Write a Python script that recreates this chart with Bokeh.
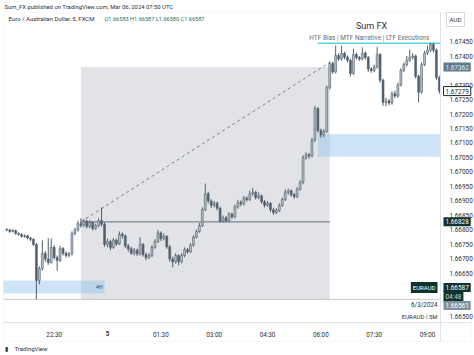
from bokeh.plotting import figure
from bokeh.models import (ColumnDataSource, Range1d, FixedTicker, PrintfTickFormatter,
                          Label, BoxAnnotation)
from bokeh.embed import file_html
from bokeh.resources import INLINE

# ---------------- data (EURAUD 5m, FXCM) ----------------
# bar times in minutes relative to 00:00 on the 5th; first bar 21:10 on the 4th
FIRST_BAR = -170
BAR_MINUTES = 5

opens = [
    1.66802, 1.66800, 1.66795, 1.66798, 1.66788, 1.66785, 1.66778, 1.66780, 1.66772, 1.66768,
    1.66750, 1.66626, 1.66667, 1.66719, 1.66700, 1.66688, 1.66740, 1.66705, 1.66695, 1.66736,
    1.66720, 1.66712, 1.66718, 1.66788, 1.66800, 1.66822, 1.66816, 1.66830, 1.66812, 1.66826,
    1.66805, 1.66815, 1.66832, 1.66820, 1.66750, 1.66760, 1.66740, 1.66765, 1.66752, 1.66785,
    1.66780, 1.66745, 1.66735, 1.66720, 1.66730, 1.66718, 1.66750, 1.66715, 1.66705, 1.66712,
    1.66740, 1.66760, 1.66790, 1.66770, 1.66778, 1.66742, 1.66700, 1.66690, 1.66712, 1.66690,
    1.66712, 1.66732, 1.66725, 1.66748, 1.66775, 1.66795, 1.66815, 1.66870, 1.66925, 1.66900,
    1.66885, 1.66892, 1.66875, 1.66830, 1.66842, 1.66832, 1.66855, 1.66845, 1.66880, 1.66895,
    1.66890, 1.66910, 1.66905, 1.66925, 1.66930, 1.66912, 1.66918, 1.66898, 1.66885, 1.66892,
    1.66870, 1.66860, 1.66868, 1.66885, 1.66905, 1.66930, 1.66935, 1.66922, 1.66915, 1.66940,
    1.66964, 1.67050, 1.67060, 1.67055, 1.67110, 1.67219, 1.67143, 1.67128, 1.67140, 1.67291,
    1.67374, 1.67345, 1.67402, 1.67390, 1.67409, 1.67396, 1.67385, 1.67340, 1.67405, 1.67395,
    1.67390, 1.67410, 1.67395, 1.67355, 1.67350, 1.67362, 1.67405, 1.67316, 1.67240, 1.67245,
    1.67238, 1.67270, 1.67262, 1.67300, 1.67350, 1.67370, 1.67385, 1.67395, 1.67400, 1.67330,
    1.67275, 1.67370, 1.67410, 1.67420, 1.67440, 1.67420, 1.67325,
]
highs = [
    1.66806, 1.66804, 1.66803, 1.66801, 1.66792, 1.66789, 1.66785, 1.66783, 1.66776, 1.66771,
    1.66755, 1.66675, 1.66764, 1.66728, 1.66772, 1.66771, 1.66748, 1.66712, 1.66745, 1.66741,
    1.66726, 1.66724, 1.66795, 1.66808, 1.66832, 1.66840, 1.66838, 1.66836, 1.66834, 1.66830,
    1.66822, 1.66840, 1.66878, 1.66826, 1.66770, 1.66766, 1.66772, 1.66770, 1.66795, 1.66792,
    1.66784, 1.66752, 1.66742, 1.66738, 1.66736, 1.66775, 1.66755, 1.66722, 1.66720, 1.66748,
    1.66768, 1.66800, 1.66795, 1.66788, 1.66782, 1.66748, 1.66708, 1.66720, 1.66716, 1.66720,
    1.66740, 1.66738, 1.66755, 1.66782, 1.66802, 1.66824, 1.66878, 1.66960, 1.66932, 1.66906,
    1.66900, 1.66898, 1.66880, 1.66850, 1.66848, 1.66862, 1.66860, 1.66888, 1.66904, 1.66902,
    1.66918, 1.66916, 1.66936, 1.66945, 1.66935, 1.66930, 1.66922, 1.66904, 1.66900, 1.66896,
    1.66876, 1.66875, 1.66892, 1.66912, 1.66940, 1.66942, 1.66940, 1.66928, 1.66948, 1.66972,
    1.67058, 1.67068, 1.67066, 1.67118, 1.67228, 1.67224, 1.67150, 1.67148, 1.67298, 1.67382,
    1.67380, 1.67436, 1.67410, 1.67436, 1.67415, 1.67402, 1.67390, 1.67425, 1.67412, 1.67400,
    1.67430, 1.67416, 1.67400, 1.67362, 1.67370, 1.67432, 1.67410, 1.67322, 1.67256, 1.67252,
    1.67278, 1.67280, 1.67308, 1.67358, 1.67378, 1.67400, 1.67422, 1.67410, 1.67405, 1.67336,
    1.67378, 1.67418, 1.67436, 1.67446, 1.67446, 1.67426, 1.67332,
]
lows = [
    1.66796, 1.66790, 1.66792, 1.66784, 1.66780, 1.66774, 1.66773, 1.66768, 1.66762, 1.66745,
    1.66561, 1.66612, 1.66660, 1.66690, 1.66680, 1.66684, 1.66698, 1.66660, 1.66690, 1.66712,
    1.66705, 1.66706, 1.66712, 1.66782, 1.66795, 1.66808, 1.66810, 1.66805, 1.66806, 1.66798,
    1.66800, 1.66810, 1.66812, 1.66742, 1.66740, 1.66730, 1.66735, 1.66745, 1.66748, 1.66770,
    1.66738, 1.66725, 1.66714, 1.66712, 1.66710, 1.66712, 1.66708, 1.66696, 1.66700, 1.66706,
    1.66735, 1.66755, 1.66762, 1.66764, 1.66735, 1.66690, 1.66671, 1.66684, 1.66678, 1.66685,
    1.66706, 1.66718, 1.66720, 1.66742, 1.66770, 1.66790, 1.66810, 1.66865, 1.66892, 1.66876,
    1.66878, 1.66868, 1.66826, 1.66826, 1.66826, 1.66828, 1.66838, 1.66840, 1.66874, 1.66882,
    1.66885, 1.66898, 1.66900, 1.66918, 1.66905, 1.66906, 1.66890, 1.66878, 1.66880, 1.66862,
    1.66852, 1.66855, 1.66862, 1.66880, 1.66900, 1.66922, 1.66915, 1.66908, 1.66910, 1.66935,
    1.66958, 1.67042, 1.67046, 1.67050, 1.67104, 1.67136, 1.67118, 1.67120, 1.67135, 1.67285,
    1.67338, 1.67340, 1.67382, 1.67384, 1.67388, 1.67378, 1.67330, 1.67335, 1.67388, 1.67383,
    1.67385, 1.67388, 1.67345, 1.67342, 1.67344, 1.67356, 1.67308, 1.67228, 1.67226, 1.67230,
    1.67232, 1.67255, 1.67256, 1.67295, 1.67345, 1.67364, 1.67380, 1.67388, 1.67322, 1.67240,
    1.67270, 1.67365, 1.67404, 1.67414, 1.67412, 1.67318, 1.67270,
]
closes = [
    1.66800, 1.66795, 1.66798, 1.66788, 1.66785, 1.66778, 1.66780, 1.66772, 1.66768, 1.66750,
    1.66626, 1.66667, 1.66719, 1.66700, 1.66688, 1.66740, 1.66705, 1.66695, 1.66736, 1.66720,
    1.66712, 1.66718, 1.66788, 1.66800, 1.66822, 1.66816, 1.66830, 1.66812, 1.66826, 1.66805,
    1.66815, 1.66832, 1.66820, 1.66750, 1.66760, 1.66740, 1.66765, 1.66752, 1.66785, 1.66780,
    1.66745, 1.66735, 1.66720, 1.66730, 1.66718, 1.66750, 1.66715, 1.66705, 1.66712, 1.66740,
    1.66760, 1.66790, 1.66770, 1.66778, 1.66742, 1.66700, 1.66690, 1.66712, 1.66690, 1.66712,
    1.66732, 1.66725, 1.66748, 1.66775, 1.66795, 1.66815, 1.66870, 1.66925, 1.66900, 1.66885,
    1.66892, 1.66875, 1.66830, 1.66842, 1.66832, 1.66855, 1.66845, 1.66880, 1.66895, 1.66890,
    1.66910, 1.66905, 1.66925, 1.66930, 1.66912, 1.66918, 1.66898, 1.66885, 1.66892, 1.66870,
    1.66860, 1.66868, 1.66885, 1.66905, 1.66930, 1.66935, 1.66922, 1.66915, 1.66940, 1.66964,
    1.67050, 1.67060, 1.67055, 1.67110, 1.67219, 1.67143, 1.67128, 1.67140, 1.67291, 1.67374,
    1.67345, 1.67402, 1.67390, 1.67409, 1.67396, 1.67385, 1.67340, 1.67405, 1.67395, 1.67390,
    1.67410, 1.67395, 1.67355, 1.67350, 1.67362, 1.67405, 1.67316, 1.67240, 1.67245, 1.67238,
    1.67270, 1.67262, 1.67300, 1.67350, 1.67370, 1.67385, 1.67395, 1.67400, 1.67330, 1.67275,
    1.67370, 1.67410, 1.67420, 1.67440, 1.67420, 1.67325, 1.67279,
]

tick_minutes = [-90, 0, 90, 180, 270, 360, 450, 540]
tick_labels = ["22:30", "5", "01:30", "03:00", "04:30", "06:00", "07:30", "09:00"]
price_ticks = [1.66500, 1.66650, 1.66700, 1.66750, 1.66800, 1.66850, 1.66900, 1.66950,
               1.67000, 1.67050, 1.67100, 1.67150, 1.67200, 1.67250, 1.67300, 1.67400,
               1.67450]

# drawings (minutes, price)
range_box = dict(start=-45, end=375, low=1.66561, high=1.67362)
range_level = 1.66828
trend_line = dict(start=-45, p0=1.66828, end=375, p1=1.67378)
fvg_box = dict(start=355, low=1.67053, high=1.67130)
h4_box = dict(end=-5, low=1.66581, high=1.66626)
top_level = dict(start=355, price=1.67444)
low_level = 1.66561

last_price = "1.66587"
countdown = "04:48"
low_price = "1.66561"

# ---------------- figure ----------------
FONT = "Roboto"
W, H = 474, 355
# whole canvas is the frame; chart pane and scales are laid out inside it
X0, X1 = -180.6, 619.3            # canvas left / right in minutes
Y0, Y1 = 1.663672, 1.675914       # canvas bottom / top in price
PANE_L, PANE_R = -175.5, 561.9    # chart pane left / right (price scale starts at right)
PANE_B, PANE_T = 1.664810, 1.675500
OUTER_R, OUTER_B = 614.2, 1.664155

p = figure(width=W, height=H, output_backend="svg", toolbar_location=None,
           x_range=Range1d(X0, X1), y_range=Range1d(Y0, Y1),
           y_axis_location="right", min_border=0,
           min_border_left=0, min_border_top=0, min_border_right=0, min_border_bottom=0)
p.styles = {"position": "absolute", "left": "0px", "top": "0px"}
p.outline_line_color = None
p.background_fill_color = "white"
p.border_fill_color = "white"
p.grid.visible = False

# outer frame of the chart widget
p.add_layout(BoxAnnotation(left=PANE_L, right=OUTER_R, bottom=OUTER_B, top=PANE_T,
                           fill_alpha=0, line_color="#e0e3eb", line_width=1, level="underlay"))

# axes drawn inside the canvas
p.xaxis.fixed_location = PANE_B
p.xaxis.bounds = (PANE_L, OUTER_R)
p.xaxis.ticker = FixedTicker(ticks=tick_minutes)
p.xaxis.major_label_overrides = {t: (" " if l == "5" else l) for t, l in zip(tick_minutes, tick_labels)}
p.xaxis.major_tick_line_color = None
p.xaxis.minor_tick_line_color = None
p.xaxis.axis_line_color = "#e0e3eb"
p.xaxis.major_label_text_font = FONT
p.xaxis.major_label_text_font_size = "6.3px"
p.xaxis.major_label_text_color = "#2a2e39"
p.xaxis.major_label_standoff = 3

p.yaxis.fixed_location = PANE_R
p.yaxis.bounds = (OUTER_B, PANE_T)
p.yaxis.ticker = FixedTicker(ticks=price_ticks)
p.yaxis.formatter = PrintfTickFormatter(format="%.5f")
p.yaxis.major_tick_line_color = None
p.yaxis.minor_tick_line_color = None
p.yaxis.axis_line_color = "#e0e3eb"
p.yaxis.major_label_text_font = FONT
p.yaxis.major_label_text_font_size = "6.4px"
p.yaxis.major_label_text_color = "#2a2e39"
p.yaxis.major_label_standoff = 3

# drawings underneath candles
p.add_layout(BoxAnnotation(left=range_box["start"], right=range_box["end"],
                           bottom=range_box["low"], top=range_box["high"],
                           fill_color="#b2b5be", fill_alpha=0.38, line_color=None,
                           level="underlay"))
p.add_layout(BoxAnnotation(left=fvg_box["start"], right=PANE_R,
                           bottom=fvg_box["low"], top=fvg_box["high"],
                           fill_color="#90c3ef", fill_alpha=0.45, line_color=None,
                           level="underlay"))
p.add_layout(BoxAnnotation(left=PANE_L, right=h4_box["end"],
                           bottom=h4_box["low"], top=h4_box["high"],
                           fill_color="#90c3ef", fill_alpha=0.45, line_color=None,
                           level="underlay"))
p.segment(x0=[PANE_L], y0=[low_level], x1=[PANE_R], y1=[low_level],
          line_color="#c3c7cd", line_width=1)
p.segment(x0=[range_box["start"]], y0=[range_level], x1=[range_box["end"]], y1=[range_level],
          line_color="#7d858d", line_width=1.2)
p.segment(x0=[trend_line["start"]], y0=[trend_line["p0"]], x1=[trend_line["end"]],
          y1=[trend_line["p1"]], line_color="#6f7580", line_width=0.9, line_dash="3 3")
p.segment(x0=[top_level["start"]], y0=[top_level["price"]], x1=[PANE_R],
          y1=[top_level["price"]], line_color="#5ecfdc", line_width=1.5)

# candles
n = len(closes)
times = [FIRST_BAR + BAR_MINUTES * i for i in range(n)]
up_fill, down_fill, edge = "#b9c1c8", "#51606c", "#51606c"
src = ColumnDataSource(dict(
    t=times, o=opens, h=highs, l=lows, c=closes,
    top=[max(a, b) for a, b in zip(opens, closes)],
    bot=[min(a, b) for a, b in zip(opens, closes)],
    fill=[up_fill if c >= o else down_fill for o, c in zip(opens, closes)],
))
p.segment(x0="t", y0="l", x1="t", y1="h", source=src, line_color=edge, line_width=1)
p.vbar(x="t", width=3.2, top="top", bottom="bot", source=src,
       fill_color="fill", line_color=edge, line_width=0.6)

# ---------------- texts (screen units measured from canvas bottom-left) ----------------


def lab(text, x, y, size, color, align="left", style="normal", **kw):
    p.add_layout(Label(text=text, x=x, y=y, x_units=kw.pop("x_units", "screen"),
                       y_units=kw.pop("y_units", "screen"), text_font=FONT,
                       text_font_size=size, text_color=color, text_align=align,
                       text_baseline="middle", text_font_style=style, **kw))


lab("Sum_FX published on TradingView.com, Mar 06, 2024 07:50 UTC", 4, H - 6, "5.9px", "#2a2e39")
lab("Euro / Australian Dollar, 5, FXCM", 8, H - 18, "6px", "#2a2e39")
lab("O1.66583 H1.66587 L1.66580 C1.66587", 104, H - 18, "5.6px", "#1f6f62")
lab("Sum FX", 371, H - 25, "9px", "#2a2e39", align="center")
lab("HTF Bias  |  MTF Narrative  |  LTF Executions", 372, H - 37, "6.5px", "#6a6d78",
    align="center")
lab("4H", -8, (h4_box["low"] + h4_box["high"]) / 2, "5.5px", "#3d4a66", align="right",
    x_units="data", y_units="data")
lab("5", 0, H - 333, "6.3px", "#2a2e39", align="center", style="bold", x_units="data")
lab("TradingView", 14, H - 348, "6px", "#2a2e39")
lab("\u25AE", 4, H - 348, "6px", "#2a2e39")

# price scale tags
lab("AUD", 446, H - 19, "6.2px", "#2a2e39", background_fill_color="white",
    border_line_color="#d6d9de", padding=3)
lab("1.67362", 443, 1.67362, "6.4px", "#e8eef2", y_units="data",
    background_fill_color="#5f7a8b", padding=2)
lab("1.67279", 443, 1.67279, "6.4px", "#1e2a30", y_units="data",
    background_fill_color="white", border_line_color="#1e2a30", padding=2)
lab("1.66828", 443, range_level, "6.4px", "white", y_units="data",
    background_fill_color="#10332f", padding=2)
lab(last_price, 443, H - 287, "6.4px", "white", background_fill_color="#10332f", padding=2)
lab(countdown, 443, H - 296, "6.4px", "#c8d2d0", background_fill_color="#10332f", padding=2)
lab(low_price, 443, H - 305, "6.4px", "white", background_fill_color="#7f929e", padding=2)
lab("EURAUD", 437, H - 287, "6px", "white", align="right",
    background_fill_color="#10332f", padding=2)
lab("6/3/2024", 437, H - 304, "6.3px", "#2a2e39", align="right")
lab("EURAUD | 5M", 437, H - 316, "6px", "#2a2e39", align="right")

open("out.html", "w").write(file_html(p, INLINE))
